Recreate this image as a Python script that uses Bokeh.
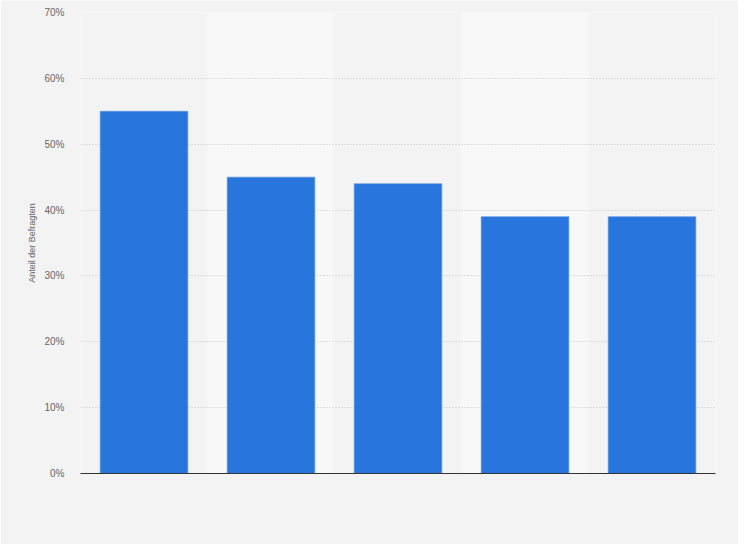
from bokeh.plotting import figure
from bokeh.models import ColumnDataSource, FixedTicker, PrintfTickFormatter, Range1d
from bokeh.embed import file_html
from bokeh.resources import INLINE

# data
categories = ["1", "2", "3", "4", "5"]
values = [55, 45, 44, 39, 39]
y_ticks = [0, 10, 20, 30, 40, 50, 60, 70]
band_index = [1, 3]

BG = "#f3f3f3"
BAND = "#f8f8f8"
BAR = "#2876dd"
FONT = "Liberation Sans"

p = figure(width=738, height=544, output_backend="svg", toolbar_location=None,
           x_range=Range1d(-0.5, len(categories) - 0.5), y_range=Range1d(0, 70),
           min_border_left=80, min_border_right=23, min_border_top=12, min_border_bottom=71)
p.background_fill_color = BG
p.border_fill_color = BG
p.outline_line_color = None

# alternating bands
band_src = ColumnDataSource(dict(x=band_index, top=[70] * len(band_index)))
p.vbar(x="x", top="top", bottom=0, width=1.0, source=band_src,
       fill_color=BAND, line_color=None, level="underlay")

src = ColumnDataSource(dict(x=list(range(len(categories))), top=values))
p.vbar(x="x", top="top", bottom=0, width=0.69, source=src,
       fill_color=BAR, line_color="#5b96e6", line_width=0.6)

# y axis
p.yaxis.ticker = FixedTicker(ticks=y_ticks)
p.yaxis.formatter = PrintfTickFormatter(format="%d%%")
p.yaxis.axis_line_color = None
p.yaxis.major_tick_line_color = None
p.yaxis.minor_tick_line_color = None
p.yaxis.major_label_text_color = "#666666"
p.yaxis.major_label_text_font = FONT
p.yaxis.major_label_text_font_size = "10px"
p.yaxis.major_label_standoff = 10
p.yaxis.axis_label = "Anteil der Befragten"
p.yaxis.axis_label_text_font = FONT
p.yaxis.axis_label_text_font_size = "9px"
p.yaxis.axis_label_text_font_style = "normal"
p.yaxis.axis_label_text_color = "#666666"
p.yaxis.axis_label_standoff = 4

# x axis: only the baseline
p.xaxis.ticker = FixedTicker(ticks=[])
p.xaxis.axis_line_color = "#333333"
p.xaxis.axis_line_width = 1
p.xaxis.major_tick_line_color = None
p.xaxis.minor_tick_line_color = None

p.xgrid.grid_line_color = None
p.ygrid.ticker = FixedTicker(ticks=y_ticks)
p.ygrid.grid_line_color = "#c8c8c8"
p.ygrid.grid_line_dash = "1 2"
p.ygrid.grid_line_width = 1

open("out.html", "w").write(file_html(p, INLINE))
